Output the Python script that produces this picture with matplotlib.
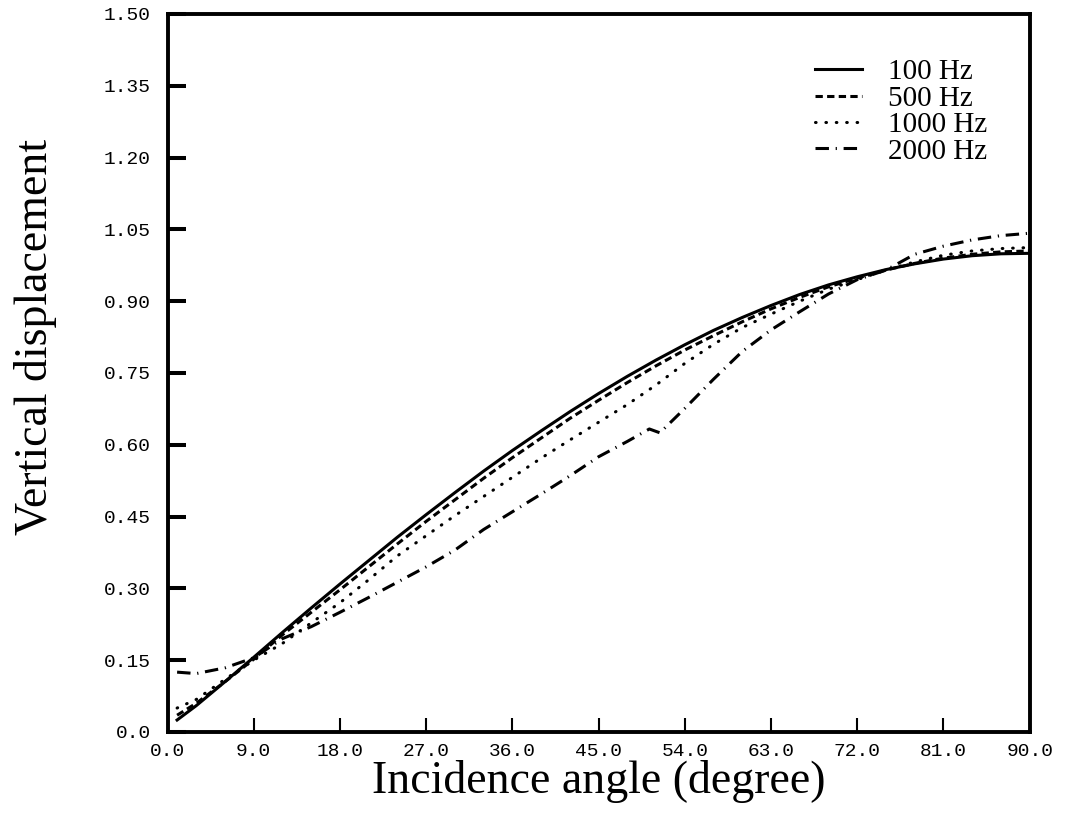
import numpy as np
import matplotlib
matplotlib.use('Agg')
import matplotlib.pyplot as plt
from matplotlib.lines import Line2D

# angles (degree)
angles = [1, 3, 6, 9, 12, 15, 18, 21, 24, 27, 30, 33, 36, 39, 42, 45, 48,
          51, 54, 57, 60, 63, 66, 69, 72, 75, 78, 81, 84, 87, 90]

disp_100 = [0.025, 0.055, 0.105, 0.156, 0.208, 0.259, 0.309, 0.358, 0.407,
            0.454, 0.500, 0.545, 0.588, 0.629, 0.669, 0.707, 0.743, 0.777,
            0.809, 0.839, 0.866, 0.891, 0.914, 0.934, 0.951, 0.966, 0.978,
            0.988, 0.995, 0.999, 1.000]

disp_500 = [0.035, 0.060, 0.105, 0.152, 0.203, 0.250, 0.297, 0.345, 0.393,
            0.440, 0.485, 0.530, 0.573, 0.614, 0.655, 0.693, 0.730, 0.765,
            0.798, 0.828, 0.857, 0.884, 0.908, 0.930, 0.948, 0.965, 0.979,
            0.990, 0.998, 1.003, 1.005]

disp_1000 = [0.050, 0.068, 0.110, 0.150, 0.185, 0.228, 0.270, 0.318, 0.368,
             0.410, 0.452, 0.492, 0.532, 0.572, 0.610, 0.647, 0.684, 0.725,
             0.770, 0.810, 0.845, 0.873, 0.900, 0.925, 0.945, 0.965, 0.982,
             0.996, 1.005, 1.010, 1.012]

angles_2000 = [1, 3, 6, 9, 12, 15, 18, 21, 24, 27, 30, 33, 36, 39, 42, 45,
               48, 50.3, 51.4, 54, 57, 60, 63, 66, 69, 72, 75, 78, 81, 84,
               87, 90]
disp_2000 = [0.125, 0.122, 0.134, 0.155, 0.195, 0.220, 0.250, 0.281, 0.313,
             0.345, 0.380, 0.423, 0.460, 0.497, 0.535, 0.575, 0.607, 0.633,
             0.625, 0.676, 0.737, 0.795, 0.840, 0.878, 0.915, 0.945, 0.965,
             0.998, 1.015, 1.028, 1.037, 1.042]

xticks = [0, 9, 18, 27, 36, 45, 54, 63, 72, 81, 90]
xtick_labels = ['0.0', '9.0', '18.0', '27.0', '36.0', '45.0', '54.0',
                '63.0', '72.0', '81.0', '90.0']
yticks = [0, 0.15, 0.30, 0.45, 0.60, 0.75, 0.90, 1.05, 1.20, 1.35, 1.50]
ytick_labels = ['0.0', '0.15', '0.30', '0.45', '0.60', '0.75', '0.90',
                '1.05', '1.20', '1.35', '1.50']

labels = ['100 Hz', '500 Hz', '1000 Hz', '2000 Hz']


fig = plt.figure(figsize=(10.67, 8.23), dpi=100)
ax = fig.add_axes([0.157, 0.1106, 0.808, 0.8724])

lw = 2.2
styles = [
    dict(linestyle='-'),
    dict(dashes=(2.4, 1.4)),
    dict(dashes=(0.2, 3.2), dash_capstyle='round'),
    dict(dashes=(4.4, 2.2, 0.4, 2.2)),
]

ax.plot(angles, disp_100, color='k', lw=lw, **styles[0])
ax.plot(angles, disp_500, color='k', lw=lw, **styles[1])
ax.plot(angles, disp_1000, color='k', lw=lw, **styles[2])
ax.plot(angles_2000, disp_2000, color='k', lw=lw, **styles[3])

ax.set_xlim(0, 90)
ax.set_ylim(0, 1.5)

# frame and ticks
for sp in ax.spines.values():
    sp.set_linewidth(2.8)

ax.set_xticks(xticks)
ax.set_xticklabels(xtick_labels, family='Liberation Mono', fontsize=14)
ax.set_yticks(yticks)
ax.set_yticklabels(ytick_labels, family='Liberation Mono', fontsize=14)
ax.tick_params(axis='x', direction='in', length=10, width=1.5, pad=8)
ax.tick_params(axis='y', direction='in', length=13, width=2.9, pad=12)

ax.set_xlabel('Incidence angle (degree)', family='Liberation Serif',
              fontsize=33, labelpad=0)
ax.set_ylabel('Vertical displacement', family='Liberation Serif',
              fontsize=33)
ax.yaxis.set_label_coords(-0.128, 0.55)

# legend
handles = [Line2D([], [], color='k', lw=lw, **s) for s in styles]
ax.legend(handles, labels, loc='upper right', bbox_to_anchor=(0.981, 0.974),
          frameon=False, handlelength=1.6, handletextpad=0.9,
          labelspacing=0.0, prop={'family': 'Liberation Serif', 'size': 21})

fig.savefig('out.png', dpi=100)
